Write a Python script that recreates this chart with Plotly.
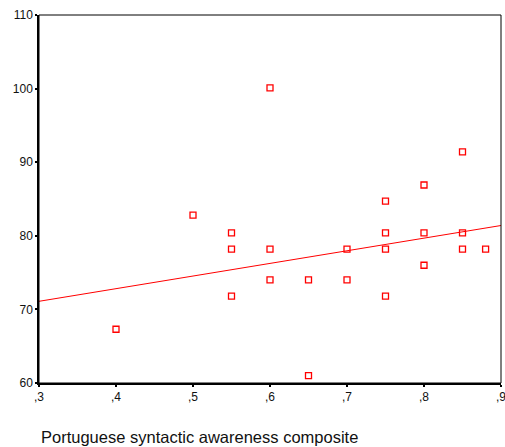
import plotly.graph_objects as go

syntactic = [0.40, 0.50, 0.55, 0.55, 0.55, 0.60, 0.60, 0.60, 0.65, 0.65, 0.70, 0.70,
             0.75, 0.75, 0.75, 0.75, 0.80, 0.80, 0.80, 0.85, 0.85, 0.85, 0.88]
scores = [67.3, 82.8, 80.4, 78.2, 71.8, 100.1, 78.2, 74.0, 74.0, 61.0, 78.2, 74.0,
          84.7, 80.4, 78.2, 71.8, 86.9, 80.4, 76.0, 91.4, 80.4, 78.2, 78.2]

# fitted regression line at the axis ends
fit_x = [0.3, 0.9]
fit_y = [71.1, 81.4]

x_ticks = [0.3, 0.4, 0.5, 0.6, 0.7, 0.8, 0.9]
x_ticklabels = [",3", ",4", ",5", ",6", ",7", ",8", ",9"]
y_ticks = [60, 70, 80, 90, 100, 110]

RED = "#ff0000"
FONT = "Liberation Sans, Arial, sans-serif"

fig = go.Figure()
fig.add_trace(go.Scatter(x=fit_x, y=fit_y, mode="lines",
                         line=dict(color=RED, width=1), hoverinfo="skip"))
fig.add_trace(go.Scatter(x=syntactic, y=scores, mode="markers",
                         marker=dict(symbol="square-open", size=6, color=RED,
                                     line=dict(width=1.3, color=RED)),
                         cliponaxis=False))

fig.update_layout(
    width=505, height=447,
    margin=dict(l=39, r=4, t=15, b=64),
    paper_bgcolor="white", plot_bgcolor="white",
    showlegend=False,
    font=dict(family=FONT, size=12, color="#111"),
    xaxis=dict(range=[0.3, 0.9], tickvals=x_ticks, ticktext=x_ticklabels,
               showgrid=False, zeroline=False, showline=True, linecolor="black",
               linewidth=2, ticks="outside", ticklen=2, tickwidth=2, tickcolor="black",
               ticklabeloverflow="allow", automargin=False,
               tickfont=dict(size=12, family=FONT)),
    yaxis=dict(range=[60, 110], tickvals=y_ticks,
               showgrid=False, zeroline=False, showline=True, linecolor="black",
               linewidth=1.5, ticks="outside", ticklen=2, tickwidth=2, tickcolor="black",
               ticklabeloverflow="allow", automargin=False,
               tickfont=dict(size=12, family=FONT)),
    shapes=[dict(type="rect", xref="paper", yref="paper", x0=0, x1=1, y0=0, y1=1,
                 line=dict(color="black", width=1))],
    annotations=[dict(text="Portuguese syntactic awareness composite", xref="paper", yref="paper",
                      x=0, y=-0.147, xanchor="left", yanchor="middle", showarrow=False,
                      font=dict(size=16.5, family=FONT, color="#111"))],
)

fig.write_html("out.html", config={"displayModeBar": False},
               post_script="document.body.style.margin='0';document.body.style.overflow='hidden';")
